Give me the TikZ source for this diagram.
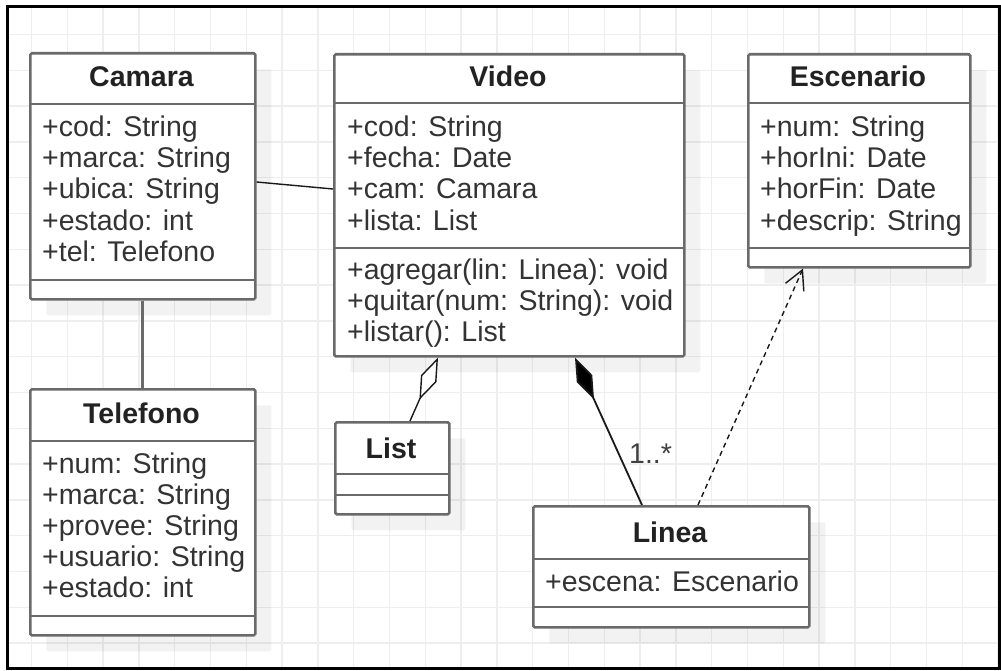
\documentclass[tikz,border=0pt]{standalone}
\usepackage{fontspec}
\setmainfont{Liberation Sans}
\usetikzlibrary{arrows.meta,calc,shadows}
\definecolor{boxline}{HTML}{6A6A6A}
\definecolor{gridc}{HTML}{EEEEEE}
\definecolor{txt}{HTML}{333333}
\definecolor{ttl}{HTML}{222222}
\begin{document}
\begin{tikzpicture}[x=1pt,y=-1pt,
  classbox/.style={draw=boxline, line width=2.6pt, fill=white, rounded corners=1.5pt,
    inner sep=0pt, anchor=north west,
    drop shadow={shadow xshift=16pt, shadow yshift=-16pt, fill=black, opacity=0.05}},
  sepline/.style={draw=boxline, line width=2.6pt},
  attr/.style={anchor=base west, inner sep=0pt, text=txt, font=\fontsize{28.5}{31}\selectfont},
  cname/.style={anchor=base, inner sep=0pt, text=ttl, font=\fontsize{28.5}{31}\selectfont\bfseries},
  gridline/.style={draw=gridc, line width=1.3pt},
  assoc/.style={draw=black!90, line width=1.4pt},
  heavyassoc/.style={draw=boxline, line width=2.8pt},
  depend/.style={draw=black!90, line width=1.4pt, dash pattern=on 5pt off 4pt}
]
\useasboundingbox (0,0) rectangle (1001,671);
\fill[white] (0,0) rectangle (1001,671);

% background grid
\foreach \k in {0,...,27} {
  \draw[gridline] ({31.5+35.8*\k},8) -- ({31.5+35.8*\k},667);
}
\foreach \k in {0,...,17} {
  \draw[gridline] (8,{34.5+35.8*\k}) -- (998,{34.5+35.8*\k});
}

% ---- Camara ----
\node[classbox, minimum width=225pt, minimum height=246pt] (cam) at (29,52) {};
\draw[sepline] (29,104) -- (254,104);
\draw[sepline] (29,280) -- (254,280);
\node[cname] (camT) at (141.5,87) {Camara};
\node[attr] (camA1) at (42,137) {+cod: String};
\node[attr] (camA2) at (42,168) {+marca: String};
\node[attr] (camA3) at (42,199) {+ubica: String};
\node[attr] (camA4) at (42,230) {+estado: int};
\node[attr] (camA5) at (42,261) {+tel: Telefono};

% ---- Video ----
\node[classbox, minimum width=350pt, minimum height=302pt] (video) at (333,53) {};
\draw[sepline] (333,103) -- (683,103);
\draw[sepline] (333,248) -- (683,248);
\node[cname] (vidT) at (508,87) {Video};
\node[attr] (vidA1) at (347,137) {+cod: String};
\node[attr] (vidA2) at (347,168) {+fecha: Date};
\node[attr] (vidA3) at (347,199) {+cam: Camara};
\node[attr] (vidA4) at (347,230) {+lista: List};
\node[attr] (vidO1) at (347,279) {+agregar(lin: Linea): void};
\node[attr] (vidO2) at (347,310) {+quitar(num: String): void};
\node[attr] (vidO3) at (347,341) {+listar(): List};

% ---- Escenario ----
\node[classbox, minimum width=222pt, minimum height=213pt] (esc) at (747,53) {};
\draw[sepline] (747,103) -- (969,103);
\draw[sepline] (747,248) -- (969,248);
\node[cname] (escT) at (858,87) {Escenario};
\node[attr] (escA1) at (760,137) {+num: String};
\node[attr] (escA2) at (760,168) {+horIni: Date};
\node[attr] (escA3) at (760,199) {+horFin: Date};
\node[attr] (escA4) at (760,230) {+descrip: String};

% ---- Telefono ----
\node[classbox, minimum width=225pt, minimum height=246pt] (tel) at (29,388) {};
\draw[sepline] (29,441) -- (254,441);
\draw[sepline] (29,616) -- (254,616);
\node[cname] (telT) at (141.5,423) {Telefono};
\node[attr] (telA1) at (42,473) {+num: String};
\node[attr] (telA2) at (42,504) {+marca: String};
\node[attr] (telA3) at (42,535) {+provee: String};
\node[attr] (telA4) at (42,566) {+usuario: String};
\node[attr] (telA5) at (42,597) {+estado: int};

% ---- List ----
\node[classbox, minimum width=114pt, minimum height=92pt] (list) at (334,421) {};
\draw[sepline] (334,474) -- (448,474);
\draw[sepline] (334,495) -- (448,495);
\node[cname] (listT) at (391,458) {List};

% ---- Linea ----
\node[classbox, minimum width=276pt, minimum height=121pt] (linea) at (532,505) {};
\draw[sepline] (532,559) -- (808,559);
\draw[sepline] (532,607) -- (808,607);
\node[cname] (linT) at (670,542) {Linea};
\node[attr] (linA1) at (545,591) {+escena: Escenario};

% ---- relationships ----
\draw[heavyassoc] (cam.south) -- (tel.north);
\draw[assoc] ($(cam.north east)+(0,130)$) -- ($(video.north west)+(0,136)$);
\draw[assoc, {Diamond[open, fill=white, length=46pt, width=17pt]}-]
  ($(video.south west)+(105,0)$) -- ($(list.north west)+(76,0)$);
\draw[assoc, line width=1.8pt, {Diamond[fill=black, length=46pt, width=17pt]}-]
  ($(video.south west)+(242,0)$) -- ($(linea.north west)+(110,0)$);
\draw[depend, -{Straight Barb[length=19pt, width=20pt]}]
  ($(linea.north west)+(166,0)$) -- ($(esc.south west)+(56,0)$);
\node[attr, text=black!75] (mult) at (629,463) {1..*};

% outer frame
\draw[black, line width=3pt] (7,6.5) rectangle (999,668.5);
\end{tikzpicture}
\end{document}
